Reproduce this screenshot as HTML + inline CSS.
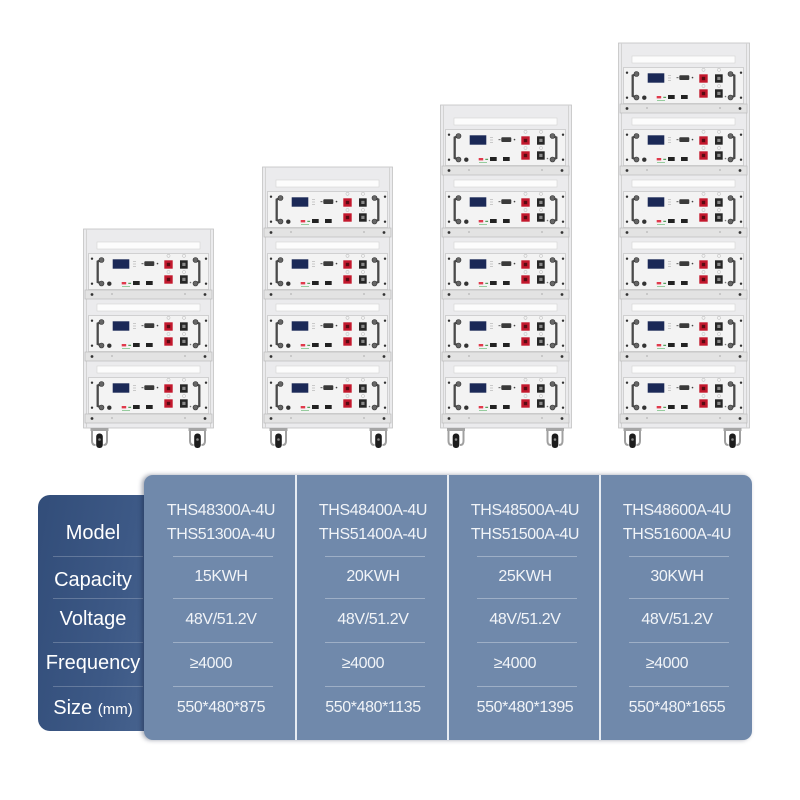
<!DOCTYPE html>
<html><head><meta charset="utf-8">
<style>
html,body{margin:0;padding:0;background:#fff;}
#wrap{position:relative;width:800px;height:800px;overflow:hidden;background:#fff;font-family:"Liberation Sans",Arial,sans-serif;}
svg{position:absolute;left:0;top:0;}
.lp{position:absolute;left:38px;top:495px;width:125px;height:236px;border-radius:12px;background:linear-gradient(100deg,#324d79 0%,#3d5986 60%,#4a6691 100%);}
.mp{position:absolute;left:144px;top:475px;width:608px;height:265px;border-radius:9px;background:#7089ab;box-shadow:-2px 0 5px rgba(15,25,55,.4);}
.vd{position:absolute;top:475px;width:2px;height:265px;background:#e6ecf3;}
.rl{position:absolute;height:1px;background:rgba(255,255,255,.32);}
.ll{position:absolute;left:53px;width:90px;height:1px;background:rgba(255,255,255,.22);}
.t{position:absolute;width:152px;text-align:center;font-size:16px;line-height:20px;color:#f1f4f8;letter-spacing:-0.4px;white-space:nowrap;}
.lb{position:absolute;left:38px;width:110px;text-align:center;font-size:20px;line-height:24px;color:#fff;white-space:nowrap;}
.lb small{font-size:15px;}
</style></head><body><div id="wrap">
<svg width="800" height="470" viewBox="0 0 800 470" xmlns="http://www.w3.org/2000/svg">
<defs>
<g id="mod">
 <rect x="14" y="13" width="103" height="7" fill="#fcfcfc" stroke="#d2d2d2" stroke-width="0.6"/>
 <rect x="5.5" y="24.5" width="120" height="36" fill="#f3f3f3" stroke="#c4c4c4" stroke-width="0.7"/>
 <rect x="2" y="61" width="127" height="9" fill="#e3e3e3" stroke="#bbbbbb" stroke-width="0.7"/>
 <circle cx="9" cy="65.5" r="1.4" fill="#333"/><circle cx="122" cy="65.5" r="1.4" fill="#333"/>
 <rect x="28" y="64" width="2" height="2" fill="#c8c8c8"/><rect x="101" y="64" width="2" height="2" fill="#c8c8c8"/>
 <circle cx="9" cy="29.7" r="1.2" fill="#333"/><circle cx="9" cy="54.7" r="1.2" fill="#333"/>
 <circle cx="123" cy="29.7" r="1.2" fill="#333"/><circle cx="123" cy="54.7" r="1.2" fill="#333"/>
 <path d="M18.5 31 L14.7 32.5 L14.7 53 L18.5 54.5" fill="none" stroke="#4a4a4a" stroke-width="2.3"/>
 <circle cx="18.5" cy="31" r="2.5" fill="#666" stroke="#333" stroke-width="0.6"/>
 <circle cx="18.5" cy="54.5" r="2.5" fill="#666" stroke="#333" stroke-width="0.6"/>
 <path d="M112.5 31 L116.3 32.5 L116.3 53 L112.5 54.5" fill="none" stroke="#4a4a4a" stroke-width="2.3"/>
 <circle cx="112.5" cy="31" r="2.5" fill="#666" stroke="#333" stroke-width="0.6"/>
 <circle cx="112.5" cy="54.5" r="2.5" fill="#666" stroke="#333" stroke-width="0.6"/>
 <rect x="29.7" y="30.3" width="16.6" height="9.4" fill="#1b2957"/>
 <rect x="50" y="32" width="3" height="1" fill="#c9c9c9"/><rect x="50" y="34.5" width="3" height="1" fill="#c9c9c9"/><rect x="50" y="37" width="3" height="1" fill="#c9c9c9"/>
 <rect x="61.3" y="32.3" width="10" height="4.7" rx="1" fill="#3a3a3a"/>
 <rect x="58.5" y="34" width="2" height="1.2" fill="#777"/>
 <circle cx="74.5" cy="34.6" r="0.8" fill="#444"/>
 <circle cx="85.5" cy="26.8" r="1.6" fill="none" stroke="#b5b5b5" stroke-width="0.5"/>
 <circle cx="85.5" cy="43" r="1.6" fill="none" stroke="#b5b5b5" stroke-width="0.5"/>
 <circle cx="101" cy="26.8" r="1.6" fill="none" stroke="#b5b5b5" stroke-width="0.5"/>
 <circle cx="101" cy="43" r="1.6" fill="none" stroke="#b5b5b5" stroke-width="0.5"/>
 <rect x="81.3" y="31.3" width="8.4" height="8.4" fill="#c3182d"/>
 <rect x="83.8" y="33.8" width="3.4" height="3.4" fill="#5a0a12"/>
 <rect x="81.3" y="46.3" width="8.4" height="8.4" fill="#c3182d"/>
 <rect x="83.8" y="48.8" width="3.4" height="3.4" fill="#5a0a12"/>
 <rect x="97" y="31.3" width="7.7" height="8.4" fill="#262626"/>
 <rect x="99.3" y="33.8" width="3.2" height="3.2" fill="#8a8a8a"/>
 <rect x="97" y="46.3" width="7.7" height="8.4" fill="#262626"/>
 <rect x="99.3" y="48.8" width="3.2" height="3.2" fill="#8a8a8a"/>
 <circle cx="107.5" cy="53.5" r="0.8" fill="#777"/>
 <circle cx="26.3" cy="54.7" r="2.2" fill="#333"/>
 <rect x="38.7" y="53" width="4.5" height="2.4" fill="#e03a4c"/>
 <rect x="45.3" y="53.8" width="2.8" height="1" fill="#2f8a3a"/>
 <rect x="39" y="57" width="8" height="0.8" fill="#7fc28a"/>
 <rect x="50" y="52" width="6.7" height="4" fill="#222"/>
 <rect x="63" y="52" width="6.7" height="4" fill="#222"/>
</g>
<g id="wheel">
 <rect x="-9" y="0" width="18" height="3" fill="#a5a5a5"/>
 <path d="M-7.5 3 L-7.5 13 Q-7.5 17 -4 17 M7.5 3 L7.5 13 Q7.5 17 4 17" fill="none" stroke="#a0a0a0" stroke-width="2"/>
 <rect x="-3.3" y="5.5" width="6.6" height="14.5" rx="3" fill="#1d1d1d"/>
 <circle cx="0" cy="11.5" r="1.3" fill="#888"/>
</g>
</defs>

<g transform="translate(83,0)">
 <rect x="0.5" y="229" width="130" height="199" fill="#ebebed" stroke="#c2c2c2" stroke-width="0.8"/>
 <line x1="3.5" y1="229" x2="3.5" y2="428" stroke="#d3d3d3"/><line x1="127.5" y1="229" x2="127.5" y2="428" stroke="#d3d3d3"/>
 <use href="#mod" y="229"/><use href="#mod" y="291"/><use href="#mod" y="353"/>
 <use href="#wheel" x="16.5" y="428"/><use href="#wheel" x="114.5" y="428"/>
</g>
<g transform="translate(262,0)">
 <rect x="0.5" y="167" width="130" height="261" fill="#ebebed" stroke="#c2c2c2" stroke-width="0.8"/>
 <line x1="3.5" y1="167" x2="3.5" y2="428" stroke="#d3d3d3"/><line x1="127.5" y1="167" x2="127.5" y2="428" stroke="#d3d3d3"/>
 <use href="#mod" y="167"/><use href="#mod" y="229"/><use href="#mod" y="291"/><use href="#mod" y="353"/>
 <use href="#wheel" x="16.5" y="428"/><use href="#wheel" x="116.5" y="428"/>
</g>
<g transform="translate(440,0)">
 <rect x="0.5" y="105" width="131" height="323" fill="#ebebed" stroke="#c2c2c2" stroke-width="0.8"/>
 <line x1="3.5" y1="105" x2="3.5" y2="428" stroke="#d3d3d3"/><line x1="128.5" y1="105" x2="128.5" y2="428" stroke="#d3d3d3"/>
 <use href="#mod" y="105"/><use href="#mod" y="167"/><use href="#mod" y="229"/><use href="#mod" y="291"/><use href="#mod" y="353"/>
 <use href="#wheel" x="16" y="428"/><use href="#wheel" x="115" y="428"/>
</g>
<g transform="translate(618,0)">
 <rect x="0.5" y="43" width="131" height="385" fill="#ebebed" stroke="#c2c2c2" stroke-width="0.8"/>
 <line x1="3.5" y1="43" x2="3.5" y2="428" stroke="#d3d3d3"/><line x1="128.5" y1="43" x2="128.5" y2="428" stroke="#d3d3d3"/>
 <use href="#mod" y="43"/><use href="#mod" y="105"/><use href="#mod" y="167"/><use href="#mod" y="229"/><use href="#mod" y="291"/><use href="#mod" y="353"/>
 <use href="#wheel" x="14.5" y="428"/><use href="#wheel" x="114.5" y="428"/>
</g>
</svg>

<div class="lp"></div>
<div class="ll" style="top:556px"></div>
<div class="ll" style="top:598px"></div>
<div class="ll" style="top:642px"></div>
<div class="ll" style="top:686px"></div>
<div class="mp"></div>
<div class="vd" style="left:294.5px"></div>
<div class="vd" style="left:446.5px"></div>
<div class="vd" style="left:598.5px"></div>

<div class="rl" style="left:173px;width:100px;top:556px"></div>
<div class="rl" style="left:173px;width:100px;top:598px"></div>
<div class="rl" style="left:173px;width:100px;top:642px"></div>
<div class="rl" style="left:173px;width:100px;top:686px"></div>
<div class="rl" style="left:325px;width:100px;top:556px"></div>
<div class="rl" style="left:325px;width:100px;top:598px"></div>
<div class="rl" style="left:325px;width:100px;top:642px"></div>
<div class="rl" style="left:325px;width:100px;top:686px"></div>
<div class="rl" style="left:477px;width:100px;top:556px"></div>
<div class="rl" style="left:477px;width:100px;top:598px"></div>
<div class="rl" style="left:477px;width:100px;top:642px"></div>
<div class="rl" style="left:477px;width:100px;top:686px"></div>
<div class="rl" style="left:629px;width:100px;top:556px"></div>
<div class="rl" style="left:629px;width:100px;top:598px"></div>
<div class="rl" style="left:629px;width:100px;top:642px"></div>
<div class="rl" style="left:629px;width:100px;top:686px"></div>

<div class="lb" style="top:521px">Model</div>
<div class="lb" style="top:568px">Capacity</div>
<div class="lb" style="top:607px">Voltage</div>
<div class="lb" style="top:651px">Frequency</div>
<div class="lb" style="top:696px">Size <small>(mm)</small></div>

<div class="t" style="left:145px;top:501px">THS48300A-4U</div>
<div class="t" style="left:145px;top:525px">THS51300A-4U</div>
<div class="t" style="left:145px;top:567px">15KWH</div>
<div class="t" style="left:145px;top:610px">48V/51.2V</div>
<div class="t" style="left:135px;top:654px">≥4000</div>
<div class="t" style="left:145px;top:698px">550*480*875</div>

<div class="t" style="left:297px;top:501px">THS48400A-4U</div>
<div class="t" style="left:297px;top:525px">THS51400A-4U</div>
<div class="t" style="left:297px;top:567px">20KWH</div>
<div class="t" style="left:297px;top:610px">48V/51.2V</div>
<div class="t" style="left:287px;top:654px">≥4000</div>
<div class="t" style="left:297px;top:698px">550*480*1135</div>

<div class="t" style="left:449px;top:501px">THS48500A-4U</div>
<div class="t" style="left:449px;top:525px">THS51500A-4U</div>
<div class="t" style="left:449px;top:567px">25KWH</div>
<div class="t" style="left:449px;top:610px">48V/51.2V</div>
<div class="t" style="left:439px;top:654px">≥4000</div>
<div class="t" style="left:449px;top:698px">550*480*1395</div>

<div class="t" style="left:601px;top:501px">THS48600A-4U</div>
<div class="t" style="left:601px;top:525px">THS51600A-4U</div>
<div class="t" style="left:601px;top:567px">30KWH</div>
<div class="t" style="left:601px;top:610px">48V/51.2V</div>
<div class="t" style="left:591px;top:654px">≥4000</div>
<div class="t" style="left:601px;top:698px">550*480*1655</div>
</div></body></html>
